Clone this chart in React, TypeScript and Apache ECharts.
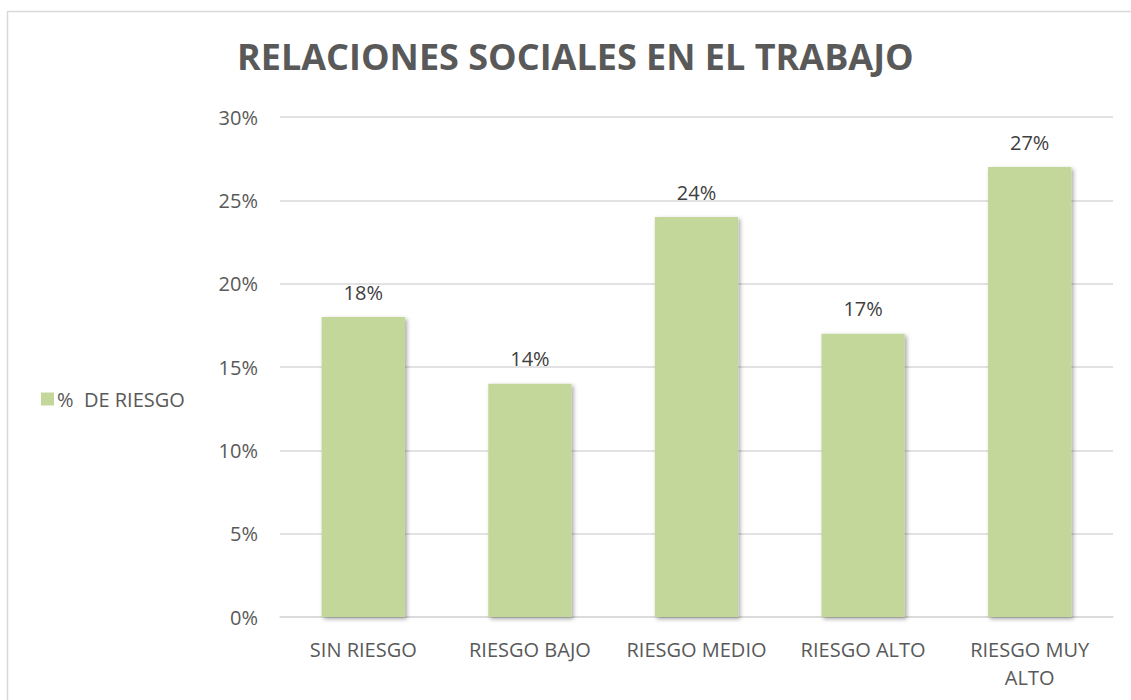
import React, { useEffect, useRef } from "react";
import * as echarts from "echarts";

const titleText = "RELACIONES SOCIALES EN EL TRABAJO";
const seriesName = "%  DE RIESGO";
const categories = ["SIN RIESGO", "RIESGO BAJO", "RIESGO MEDIO", "RIESGO ALTO", "RIESGO MUY\nALTO"];
const values = [18, 14, 24, 17, 27];
const yMin = 0;
const yMax = 30;
const yStep = 5;

export default function App() {
  const ref = useRef<HTMLDivElement>(null);
  useEffect(() => {
    if (!ref.current) return;
    const chart = echarts.init(ref.current, undefined, { renderer: "svg" });
    const font = "'Open Sans', 'Noto Sans', sans-serif";
    chart.setOption({
      animation: false,
      backgroundColor: "#ffffff",
      title: {
        text: titleText,
        left: 232,
        top: 33,
        textStyle: { fontFamily: font, fontSize: 36, fontWeight: "bold", color: "#595959" },
      },
      legend: {
        orient: "vertical",
        left: 36,
        top: 384,
        itemWidth: 13,
        itemHeight: 13,
        itemGap: 6,
        icon: "rect",
        textStyle: { fontFamily: font, fontSize: 20, color: "#595959", padding: [0, 0, 0, -2] },
        data: [seriesName],
      },
      grid: { left: 280, right: 18, top: 117, bottom: 83 },
      xAxis: {
        type: "category",
        data: categories,
        axisLine: { show: true, lineStyle: { color: "#d9d9d9", width: 1.5 } },
        axisTick: { show: false },
        axisLabel: {
          fontFamily: font,
          fontSize: 20,
          color: "#595959",
          margin: 18,
          lineHeight: 28,
          interval: 0,
        },
      },
      yAxis: {
        type: "value",
        min: yMin,
        max: yMax,
        interval: yStep,
        axisLine: { show: false },
        axisTick: { show: false },
        splitLine: { lineStyle: { color: "#d9d9d9", width: 1.5 } },
        axisLabel: {
          fontFamily: font,
          fontSize: 20,
          color: "#595959",
          margin: 22,
          formatter: (v: number) => `${v}%`,
        },
      },
      series: [
        {
          name: seriesName,
          type: "bar",
          data: values,
          barWidth: "50%",
          itemStyle: {
            color: "#c4d79b",
            shadowColor: "rgba(0,0,0,0.35)",
            shadowBlur: 4,
            shadowOffsetX: 2,
            shadowOffsetY: 2,
          },
          label: {
            show: true,
            position: "top",
            distance: 15,
            fontFamily: font,
            fontSize: 20,
            color: "#404040",
            formatter: (p: any) => `${p.value}%`,
          },
        },
      ],
      graphic: [
        { type: "line", shape: { x1: 8, y1: 11.5, x2: 1131, y2: 11.5 }, style: { stroke: "#d9d9d9", lineWidth: 1.5 } },
        { type: "line", shape: { x1: 7.5, y1: 11, x2: 7.5, y2: 700 }, style: { stroke: "#d9d9d9", lineWidth: 1.5 } },
      ],
    });
    return () => chart.dispose();
  }, []);
  return <div ref={ref} style={{ position: "fixed", left: 0, top: 0, width: 1131, height: 700 }} />;
}
